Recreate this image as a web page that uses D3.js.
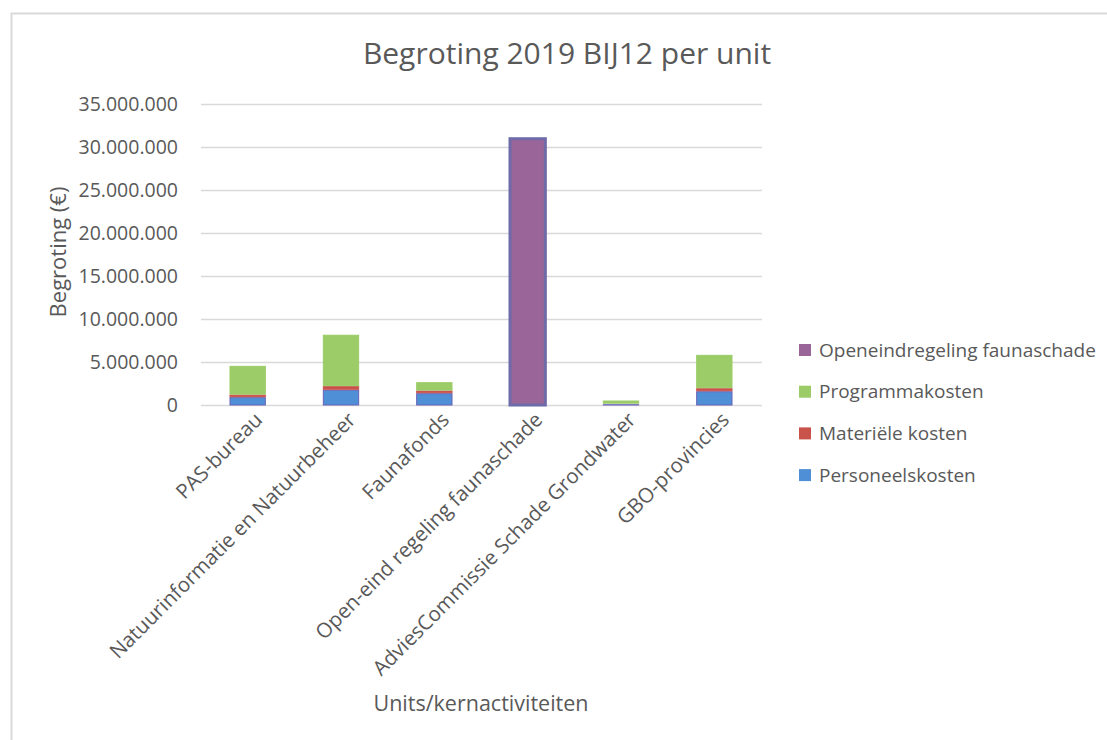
<!DOCTYPE html>
<html>
<head>
<meta charset="utf-8">
<script src="https://cdn.jsdelivr.net/npm/d3@7"></script>
<style>
  html, body { margin: 0; padding: 0; background: #fff; }
  svg { display: block; font-family: "Open Sans", "Noto Sans", sans-serif; }
</style>
</head>
<body>
<svg id="chart" width="1107" height="740"></svg>
<script>
const categories = ["PAS-bureau", "Natuurinformatie en Natuurbeheer", "Faunafonds",
  "Open-eind regeling faunaschade", "AdviesCommissie Schade Grondwater", "GBO-provincies"];
const seriesNames = ["Personeelskosten", "Materiële kosten", "Programmakosten", "Openeindregeling faunaschade"];
const personeelskosten = [970000, 1830000, 1430000, 0, 150000, 1660000];
const materieleKosten = [300000, 420000, 310000, 0, 60000, 350000];
const programmakosten = [3340000, 5980000, 970000, 0, 370000, 3880000];
const openeindregeling = [0, 0, 0, 31080000, 0, 0];
const yTicks = [0, 5000000, 10000000, 15000000, 20000000, 25000000, 30000000, 35000000];

const colors = ["#4f8fd6", "#c9524a", "#9bcc67", "#9a6599"];
const strokes = ["#6a62b8", "#c9524a", "#9bcc67", "#6f6aa8"];

const rows = categories.map((c, i) => ({
  cat: c,
  "Personeelskosten": personeelskosten[i],
  "Materiële kosten": materieleKosten[i],
  "Programmakosten": programmakosten[i],
  "Openeindregeling faunaschade": openeindregeling[i]
}));
const stacked = d3.stack().keys(seriesNames)(rows);

const svg = d3.select("#chart");
const textColor = "#595959";

// frame
svg.append("path").attr("d", "M11.5,740 V13.5 H1107")
  .attr("fill", "none").attr("stroke", "#d9d9d9").attr("stroke-width", 2);

const x = d3.scaleBand().domain(categories).range([201, 761]).paddingInner(0.6).paddingOuter(0.3);
const y = d3.scaleLinear().domain([0, 35000000]).range([405, 104]);

const nl = d3.formatLocale({decimal: ",", thousands: ".", grouping: [3], currency: ["€", ""]});
const fmt = nl.format(",d");

// grid
svg.append("g").selectAll("line").data(yTicks).join("line")
  .attr("x1", 201).attr("x2", 762)
  .attr("y1", d => Math.round(y(d)) + 0.5).attr("y2", d => Math.round(y(d)) + 0.5)
  .attr("stroke", "#d9d9d9").attr("stroke-width", 1.5);

// y axis labels
const yAxis = d3.axisLeft(y).tickValues(yTicks).tickFormat(fmt).tickSize(0).tickPadding(0);
const gy = svg.append("g").attr("transform", "translate(178,0)").call(yAxis);
gy.select(".domain").remove();
gy.selectAll("text").attr("font-size", 19.5).attr("fill", textColor)
  .attr("font-family", "'Open Sans', sans-serif");

// bars
svg.append("g").selectAll("g").data(stacked).join("g")
  .attr("fill", (d, i) => colors[i]).attr("stroke", (d, i) => strokes[i])
  .attr("stroke-width", (d, i) => i === 3 ? 3 : 1)
  .selectAll("rect").data(d => d.map(p => ({p, cat: p.data.cat}))).join("rect")
  .filter(d => d.p[1] - d.p[0] > 0)
  .attr("x", d => x(d.cat) + 1).attr("width", x.bandwidth() - 2)
  .attr("y", d => y(d.p[1]) + 1).attr("height", d => Math.max(0, y(d.p[0]) - y(d.p[1]) - 1));

// x labels
const xAxis = d3.axisBottom(x).tickSize(0).tickPadding(0);
const gx = svg.append("g").attr("transform", "translate(0,405)").call(xAxis);
gx.select(".domain").remove();
gx.selectAll("text")
  .attr("font-size", 20.5).attr("fill", textColor).attr("font-family", "'Open Sans', sans-serif")
  .attr("text-anchor", "end").attr("dy", null).attr("y", 0)
  .attr("transform", "translate(16,16) rotate(-45)");

// title
svg.append("text").attr("x", 567).attr("y", 64).attr("text-anchor", "middle")
  .attr("font-size", 30).attr("fill", textColor).text("Begroting 2019 BIJ12 per unit");

// axis titles
svg.append("text").attr("transform", "translate(66,252) rotate(-90)").attr("text-anchor", "middle")
  .attr("font-size", 22).attr("fill", textColor).text("Begroting (€)");
svg.append("text").attr("x", 481).attr("y", 711).attr("text-anchor", "middle")
  .attr("font-size", 21.5).attr("fill", textColor).text("Units/kernactiviteiten");

// legend
const legendOrder = [3, 2, 1, 0];
const lg = svg.append("g").selectAll("g").data(legendOrder).join("g")
  .attr("transform", (d, i) => `translate(799,${350 + i * 41.7})`);
lg.append("rect").attr("x", 0).attr("y", -6).attr("width", 12).attr("height", 12)
  .attr("fill", d => colors[d]);
lg.append("text").attr("x", 20).attr("y", 0).attr("dy", "0.35em")
  .attr("font-size", 19).attr("fill", textColor).text(d => seriesNames[d]);
</script>
</body>
</html>
